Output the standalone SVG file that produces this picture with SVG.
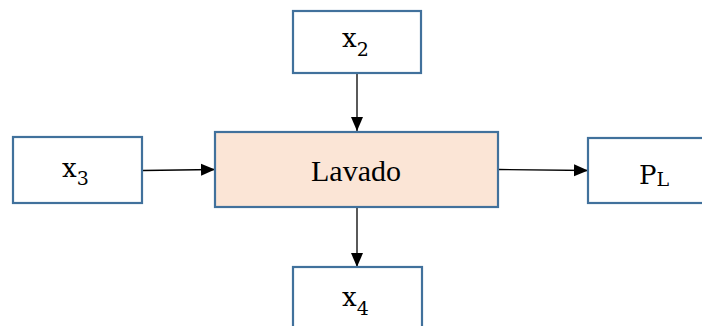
<svg xmlns="http://www.w3.org/2000/svg" width="702" height="326" viewBox="0 0 702 326">
<defs>
<style>
.box{fill:#ffffff;stroke:#41719C;stroke-width:2.2}
.main{fill:#FBE5D6;stroke:#41719C;stroke-width:2.2}
.t{font-family:"DejaVu Serif","Liberation Serif",serif;fill:#000}
.v{font-size:26px}
.s{font-size:19px}
.c{stroke:#000;stroke-width:1.3;fill:none}
</style>
<marker id="ah" markerWidth="14" markerHeight="14" refX="14" refY="7" orient="auto" markerUnits="userSpaceOnUse" viewBox="0 0 14 14">
<path d="M0,1 L14,7 L0,13 z" fill="#000"/>
</marker>
</defs>
<rect width="702" height="326" fill="#fff"/>
<g id="connectors">
<line class="c" x1="357" y1="74" x2="357" y2="131" marker-end="url(#ah)"/>
<line class="c" x1="143" y1="170.5" x2="215" y2="169.5" marker-end="url(#ah)"/>
<line class="c" x1="499" y1="169.5" x2="588" y2="170.5" marker-end="url(#ah)"/>
<line class="c" x1="357" y1="208" x2="357" y2="267" marker-end="url(#ah)"/>
</g>
<g id="node-x2">
<rect class="box" x="293" y="11" width="128" height="62"/>
<text class="t" x="342" y="47"><tspan class="v">x</tspan><tspan class="s" dy="9">2</tspan></text>
</g>
<g id="node-x3">
<rect class="box" x="13" y="137" width="129" height="66"/>
<text class="t" x="62" y="177"><tspan class="v">x</tspan><tspan class="s" dy="8">3</tspan></text>
</g>
<g id="node-lavado">
<rect class="main" x="215" y="132" width="283" height="75"/>
<text x="356" y="181" text-anchor="middle" font-family="'Liberation Serif', serif" font-size="30" fill="#000">Lavado</text>
</g>
<g id="node-pl">
<rect class="box" x="588" y="138" width="125" height="65"/>
<text class="t" x="639" y="184"><tspan class="v">P</tspan><tspan class="s" dy="2">L</tspan></text>
</g>
<g id="node-x4">
<rect class="box" x="293" y="267" width="129" height="70"/>
<text class="t" x="342" y="306"><tspan class="v">x</tspan><tspan class="s" dy="9">4</tspan></text>
</g>
</svg>
